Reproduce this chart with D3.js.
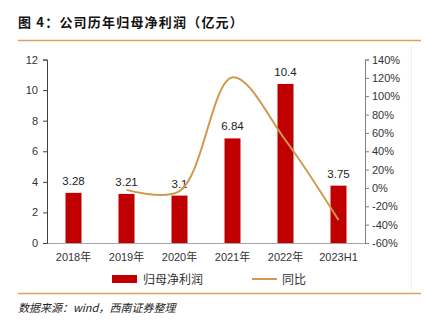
<!DOCTYPE html>
<html>
<head>
<meta charset="utf-8">
<script src="https://cdn.jsdelivr.net/npm/d3@7"></script>
<style>
  body { margin: 0; background: #fff; }
  text { font-family: "Liberation Sans", "Noto Sans CJK SC", sans-serif; }
</style>
</head>
<body>
<div id="chart"></div>
<script>
// categories and series
const years = ['2018年', '2019年', '2020年', '2021年', '2022年', '2023H1'];
const profit = [3.28, 3.21, 3.1, 6.84, 10.4, 3.75];
const yoy = [null, -2.1, -3.4, 120.6, 52.0, -35.0];
const leftTicks = [0, 2, 4, 6, 8, 10, 12];
const rightTicks = [-60, -40, -20, 0, 20, 40, 60, 80, 100, 120, 140];

const W = 424, H = 325;
const margin = {top: 59.5, right: 59, bottom: 82, left: 47};

const svg = d3.select('#chart')
  .append('svg')
  .attr('width', W)
  .attr('height', H);

// title and frame lines
svg.append('text')
  .attr('x', 18).attr('y', 27)
  .style('font-family', '"Noto Sans CJK SC"')
  .style('font-weight', 'bold')
  .style('font-size', '13px')
  .style('letter-spacing', '1.2px')
  .attr('fill', '#111')
  .text('图 4：公司历年归母净利润（亿元）');

svg.append('line')
  .attr('x1', 18).attr('x2', 421).attr('y1', 40.5).attr('y2', 40.5)
  .attr('stroke', '#d9a35a').attr('stroke-width', 1.3);
svg.append('line')
  .attr('x1', 18).attr('x2', 421).attr('y1', 293.5).attr('y2', 293.5)
  .attr('stroke', '#d9a35a').attr('stroke-width', 1.3);
svg.append('line')
  .attr('x1', 411.5).attr('x2', 411.5).attr('y1', 45).attr('y2', 290)
  .attr('stroke', '#f0f0f0');

svg.append('text')
  .attr('x', 18).attr('y', 312)
  .style('font-family', '"Noto Sans CJK SC"')
  .style('font-style', 'italic')
  .style('font-size', '11px')
  .attr('fill', '#222')
  .text('数据来源：wind，西南证券整理');

const width = W - margin.left - margin.right;
const height = H - margin.top - margin.bottom;

const g = svg.append('g')
  .attr('transform', 'translate(' + margin.left + ',' + margin.top + ')');

const x = d3.scaleBand().domain(years).range([0, width]);
const y = d3.scaleLinear().domain([0, 12]).range([height, 0]);
const y2 = d3.scaleLinear().domain([-60, 140]).range([height, 0]);

// bars
g.selectAll('rect.bar')
  .data(profit)
  .enter()
  .append('rect')
  .attr('class', 'bar')
  .attr('x', (d, i) => x(years[i]) + x.bandwidth() / 2 - 8)
  .attr('width', 16)
  .attr('y', d => y(d))
  .attr('height', d => height - y(d))
  .attr('fill', '#c00000');

// bar labels
g.selectAll('text.lbl')
  .data(profit)
  .enter()
  .append('text')
  .attr('class', 'lbl')
  .attr('x', (d, i) => x(years[i]) + x.bandwidth() / 2)
  .attr('y', d => y(d) - 8)
  .attr('text-anchor', 'middle')
  .style('font-size', '11.5px')
  .attr('fill', '#222')
  .text(d => d);

// yoy line
const lineData = yoy.map((v, i) => ({k: years[i], v})).filter(d => d.v !== null);
const line = d3.line()
  .x(d => x(d.k) + x.bandwidth() / 2)
  .y(d => y2(d.v))
  .curve(d3.curveCatmullRom.alpha(0.5));
g.append('path')
  .datum(lineData)
  .attr('d', line)
  .attr('fill', 'none')
  .attr('stroke', '#d09a4e')
  .attr('stroke-width', 2);

// x axis
const xAxis = g.append('g')
  .attr('transform', 'translate(0,' + height + ')')
  .call(d3.axisBottom(x).tickSize(0).tickPadding(10));
xAxis.select('.domain').attr('stroke', '#a6a6a6').attr('stroke-width', 1.2);
xAxis.selectAll('text').style('font-size', '11px').attr('fill', '#333')
  .style('font-family', '"Liberation Sans", "Noto Sans CJK SC"');

// left axis
const yAxis = g.append('g')
  .call(d3.axisLeft(y).tickValues(leftTicks).tickSizeOuter(0).tickSize(4).tickPadding(5));
yAxis.selectAll('.domain, line').attr('stroke', '#404040');
yAxis.selectAll('text').style('font-size', '11px').attr('fill', '#333');

// right axis
const y2Axis = g.append('g')
  .attr('transform', 'translate(' + width + ',0)')
  .call(d3.axisRight(y2).tickValues(rightTicks).tickSizeOuter(0).tickSize(4).tickPadding(3)
    .tickFormat(d => d + '%'));
y2Axis.selectAll('.domain, line').attr('stroke', '#808080');
y2Axis.selectAll('text').style('font-size', '11px').attr('fill', '#333');

// legend
const lg = svg.append('g');
lg.append('rect')
  .attr('x', 112).attr('y', 275).attr('width', 25).attr('height', 8)
  .attr('fill', '#c00000');
lg.append('text')
  .attr('x', 143).attr('y', 283.5)
  .style('font-family', '"Noto Sans CJK SC"')
  .style('font-size', '12px')
  .attr('fill', '#333')
  .text('归母净利润');
lg.append('line')
  .attr('x1', 252).attr('x2', 277).attr('y1', 279).attr('y2', 279)
  .attr('stroke', '#d09a4e').attr('stroke-width', 2);
lg.append('text')
  .attr('x', 282).attr('y', 283.5)
  .style('font-family', '"Noto Sans CJK SC"')
  .style('font-size', '12px')
  .attr('fill', '#333')
  .text('同比');
</script>
</body>
</html>
